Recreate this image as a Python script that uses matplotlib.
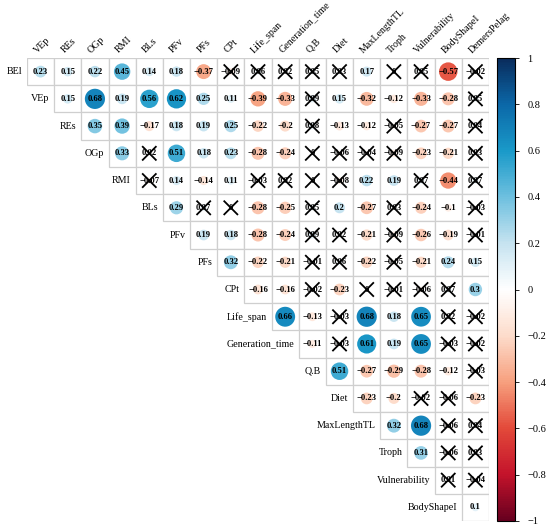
import numpy as np
import matplotlib
matplotlib.use("Agg")
import matplotlib.pyplot as plt
from matplotlib.patches import Circle, Rectangle
from matplotlib.colors import LinearSegmentedColormap, Normalize
from matplotlib.colorbar import ColorbarBase

variables = ["BEl", "VEp", "REs", "OGp", "RMI", "BLs", "PFv", "PFs", "CPt",
             "Life_span", "Generation_time", "Q.B", "Diet", "MaxLengthTL",
             "Troph", "Vulnerability", "BodyShapeI", "DemersPelag"]

# upper-triangle correlations, row i holds values for columns i+1 .. end
r_BEl = [0.23, 0.15, 0.22, 0.45, 0.14, 0.18, -0.37, -0.09, 0.06, 0.02, 0.05, 0.03, 0.17, 0.0, 0.05, -0.57, -0.02]
r_VEp = [0.15, 0.68, 0.19, 0.56, 0.62, 0.25, 0.11, -0.39, -0.33, 0.09, 0.15, -0.32, -0.12, -0.33, -0.28, 0.05]
r_REs = [0.35, 0.39, -0.17, 0.18, 0.19, 0.25, -0.22, -0.2, 0.08, -0.13, -0.12, -0.05, -0.27, -0.27, 0.04]
r_OGp = [0.33, 0.02, 0.51, 0.18, 0.23, -0.28, -0.24, 0.0, -0.06, -0.04, -0.09, -0.23, -0.21, 0.03]
r_RMI = [-0.07, 0.14, -0.14, 0.11, -0.03, 0.02, 0.0, -0.08, 0.22, 0.19, 0.07, -0.44, 0.07]
r_BLs = [0.29, 0.07, 0.0, -0.28, -0.25, 0.05, 0.2, -0.27, 0.03, -0.24, -0.1, -0.03]
r_PFv = [0.19, 0.18, -0.28, -0.24, 0.09, 0.02, -0.21, -0.09, -0.26, -0.19, -0.01]
r_PFs = [0.32, -0.22, -0.21, -0.01, 0.06, -0.22, -0.05, -0.21, 0.24, 0.15]
r_CPt = [-0.16, -0.16, -0.02, -0.23, 0.0, -0.01, -0.06, 0.07, 0.3]
r_Life = [0.66, -0.13, -0.03, 0.68, 0.18, 0.65, 0.02, -0.02]
r_Gen = [-0.11, -0.03, 0.61, 0.19, 0.65, -0.03, -0.02]
r_QB = [0.51, -0.27, -0.29, -0.28, -0.12, -0.03]
r_Diet = [-0.23, -0.2, -0.02, -0.06, -0.23]
r_MaxL = [0.32, 0.68, -0.06, 0.04]
r_Troph = [0.31, -0.06, 0.03]
r_Vuln = [0.01, -0.04]
r_Body = [0.1]

rows = [r_BEl, r_VEp, r_REs, r_OGp, r_RMI, r_BLs, r_PFv, r_PFs, r_CPt,
        r_Life, r_Gen, r_QB, r_Diet, r_MaxL, r_Troph, r_Vuln, r_Body]
sig_level = 0.1  # |r| below this is marked as not significant

cbar_ticks = [-1, -0.8, -0.6, -0.4, -0.2, 0, 0.2, 0.4, 0.6, 0.8, 1]
cbar_labels = ["\u22121", "\u22120.8", "\u22120.6", "\u22120.4", "\u22120.2",
               "0", "0.2", "0.4", "0.6", "0.8", "1"]

cmap = LinearSegmentedColormap.from_list("corr", [
    (0.0, "#67001F"), (0.1, "#C4132B"), (0.2, "#E34A3A"), (0.3, "#F7A07E"),
    (0.4, "#FDDCCB"), (0.5, "#FFFFFF"), (0.6, "#C6E3F0"), (0.7, "#6EC0DF"),
    (0.8, "#1A9AC9"), (0.9, "#0B68A8"), (1.0, "#0A2C5C")])
norm = Normalize(-1, 1)

serif = ["Liberation Serif", "DejaVu Serif"]
plt.rcParams["font.family"] = serif

fig = plt.figure(figsize=(5.5, 5.31), dpi=100)
ax = fig.add_axes([27 / 550, 1 - 521 / 531, 462 / 550, 463 / 531])
ax.set_xlim(0.5, 17.5)
ax.set_ylim(16.5, -0.5)
ax.axis("off")

for i, vals in enumerate(rows):
    for k, v in enumerate(vals):
        j = i + 1 + k
        x, y = j, i
        ax.add_patch(Rectangle((x - 0.5, y - 0.5), 1, 1, facecolor="white",
                               edgecolor="#CFCFCF", lw=0.9, zorder=1))
        rad = 0.45 * np.sqrt(abs(v))
        if rad > 0:
            ax.add_patch(Circle((x, y), rad, facecolor=cmap(norm(v)),
                                edgecolor="none", zorder=2))
        txt = f"{v:.2f}".rstrip("0").rstrip(".") if v != 0 else "0"
        txt = txt.replace("-", "\u2212")
        ax.text(x, y, txt, ha="center", va="center", fontsize=6.2,
                fontweight="bold", color="black", zorder=3)
        if abs(v) < sig_level:
            d = 0.24
            ax.plot([x - d, x + d], [y - d, y + d], color="black", lw=1.3, zorder=4)
            ax.plot([x - d, x + d], [y + d, y - d], color="black", lw=1.3, zorder=4)

# row labels
for i in range(len(rows)):
    ax.text(i + 0.5 - 0.17, i, variables[i], ha="right", va="center",
            fontsize=7.2, color="black", clip_on=False)
# column labels
for j in range(1, len(variables)):
    ax.text(j - 0.12, -0.68, variables[j], ha="left", va="baseline",
            rotation=45, rotation_mode="anchor", fontsize=7.2, color="black",
            clip_on=False)

cax = fig.add_axes([497 / 550, 1 - 521 / 531, 18 / 550, 463 / 531])
cb = ColorbarBase(cax, cmap=cmap, norm=norm, orientation="vertical")
cb.set_ticks(cbar_ticks)
cb.set_ticklabels(cbar_labels)
cb.outline.set_linewidth(0.8)
cax.tick_params(labelsize=7.5, length=3, width=0.6, pad=6)

fig.savefig("out.png", dpi=100)
